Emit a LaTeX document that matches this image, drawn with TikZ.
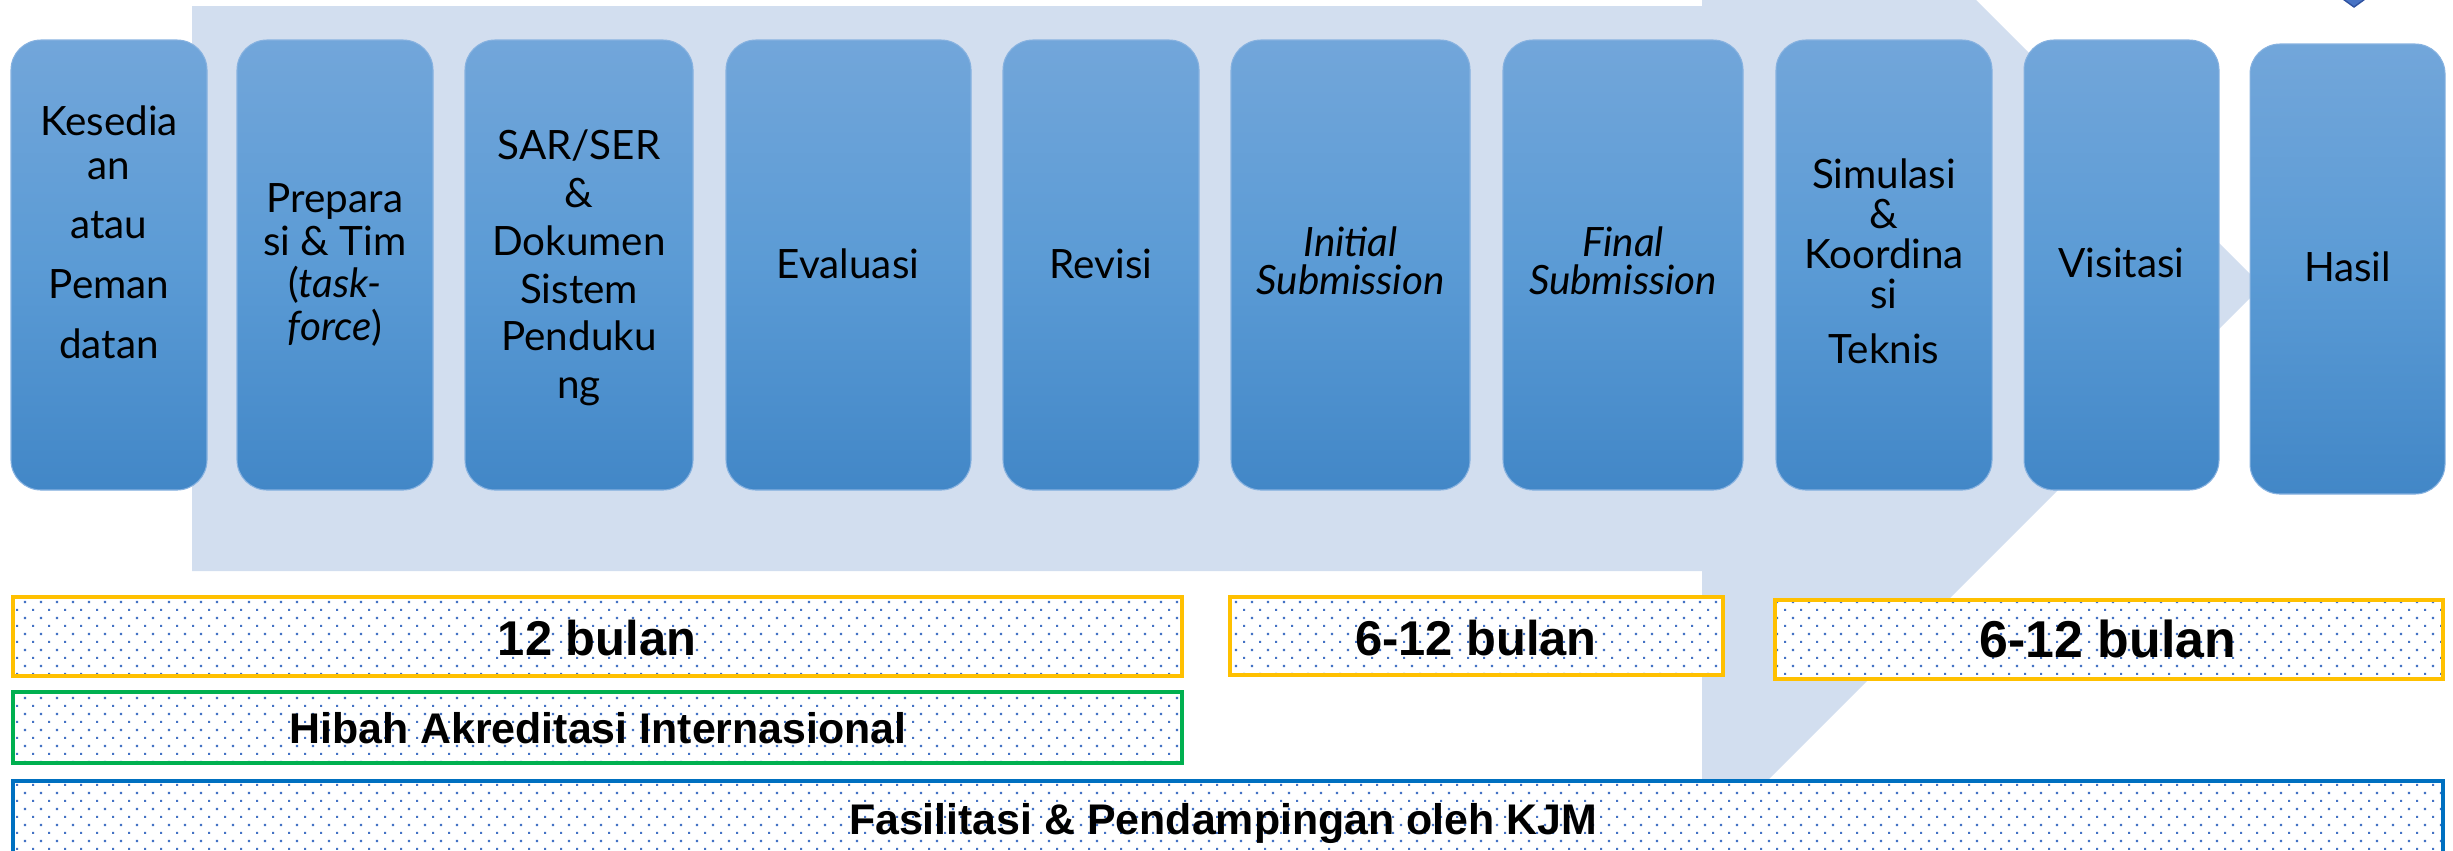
\documentclass[tikz,border=0pt]{standalone}
\usepackage{fontspec}
\setmainfont{Lato}
\newfontfamily\barfont{Liberation Sans}
\usetikzlibrary{patterns.meta}

\definecolor{arrowbg}{RGB}{210,222,239}
\definecolor{stagetop}{RGB}{114,166,218}
\definecolor{stagemid}{RGB}{91,155,213}
\definecolor{stagebot}{RGB}{66,135,199}
\definecolor{stageline}{RGB}{135,178,224}
\definecolor{dotblue}{RGB}{68,114,196}
\definecolor{baryellow}{RGB}{255,192,0}
\definecolor{bargreen}{RGB}{0,176,80}
\definecolor{barblue}{RGB}{0,112,192}
\definecolor{markfill}{RGB}{72,115,196}
\definecolor{markline}{RGB}{47,82,160}

\tikzdeclarepattern{
  name=bluedots,
  type=uncolored,
  bounding box={(0pt,0pt) and (9.07pt,9.07pt)},
  tile size={(9.07pt,9.07pt)},
  code={
    \fill (0pt,0pt) rectangle (1.2pt,1.2pt);
    \fill (4.535pt,4.535pt) rectangle (5.735pt,5.735pt);
  }
}

\begin{document}
\begin{tikzpicture}[x=0.02cm, y=-0.02cm,
  stage/.style={top color=stagetop, bottom color=stagebot, middle color=stagemid,
    draw=stageline, line width=0.6pt, rounded corners=0.6cm},
  stagetext/.style={align=center, inner sep=0pt, font=\fontsize{23}{#1}\selectfont},
  stagetext/.default=25,
  bar/.style={line width=2.27pt, preaction={fill=white}, pattern=bluedots, pattern color=dotblue},
  bartext/.style={inner sep=0pt, anchor=base, font=\barfont\bfseries\fontsize{#1}{#1}\selectfont}]
\useasboundingbox (0,0) rectangle (2453,850);
\clip (0,0) rectangle (2453,850);

\fill[arrowbg] (192,6) -- (1702,6) -- (1702,-274) -- (2262,286) -- (1702,846)
  -- (1702,571) -- (192,571) -- cycle;
\filldraw[fill=markfill, draw=markline, line width=0.8pt] (2336,-6) -- (2354,7) -- (2372,-6) -- cycle;

\path[stage] (11,40) rectangle (207,490);
\path[stage] (237,40) rectangle (433,490);
\path[stage] (465,40) rectangle (693,490);
\path[stage] (726,40) rectangle (971,490);
\path[stage] (1003,40) rectangle (1199,490);
\path[stage] (1231,40) rectangle (1470,490);
\path[stage] (1503,40) rectangle (1743,490);
\path[stage] (1776,40) rectangle (1992,490);
\path[stage] (2024,40) rectangle (2219,490);
\path[stage] (2250,44) rectangle (2445,494);

\node[stagetext] (kesediaan) at (109,232) {Kesedia\\an\\[9pt]atau\\[9pt]Peman\\[9pt]datan};
\node[stagetext=24.4] (preparasi) at (335,265) {Prepara\\si \& Tim\\(\textit{task-}\\\textit{force})};
\node[stagetext=27.2] (sarser) at (579,268) {SAR/SER\\\&\\Dokumen\\Sistem\\Penduku\\ng};
\node[stagetext] (evaluasi) at (848,263.5) {Evaluasi};
\node[stagetext] (revisi) at (1101,263.5) {Revisi};
\node[stagetext=21.5] (initial) at (1350.5,260.5) {\textit{Initial}\\\textit{Submission}};
\node[stagetext=21.5] (final) at (1623,260.5) {\textit{Final}\\\textit{Submission}};
\node[stagetext=22.7] (simulasi) at (1884,261.5) {Simulasi\\\&\\Koordina\\si\\[9pt]Teknis};
\node[stagetext] (visitasi) at (2121.5,262.5) {Visitasi};
\node[stagetext] (hasil) at (2347.5,266.5) {Hasil};

\draw[bar, draw=baryellow] (13,597) rectangle (1182,676);
\draw[bar, draw=baryellow] (1230,597) rectangle (1723,675);
\draw[bar, draw=baryellow] (1775,600) rectangle (2443,679);
\draw[bar, draw=bargreen] (13,692) rectangle (1182,763);
\draw[bar, draw=barblue] (13,781) rectangle (2443,870);

\node[bartext=27.8] (durasi1) at (597,655) {12 bulan};
\node[bartext=27.8] (durasi2) at (1476,655) {6-12 bulan};
\node[bartext=29.5] (durasi3) at (2108,657) {6-12 bulan};
\node[bartext=24.4] (hibah) at (598,743) {Hibah Akreditasi Internasional};
\node[bartext=24.4] (kjm) at (1223,834) {Fasilitasi \& Pendampingan oleh KJM};
\end{tikzpicture}
\end{document}
